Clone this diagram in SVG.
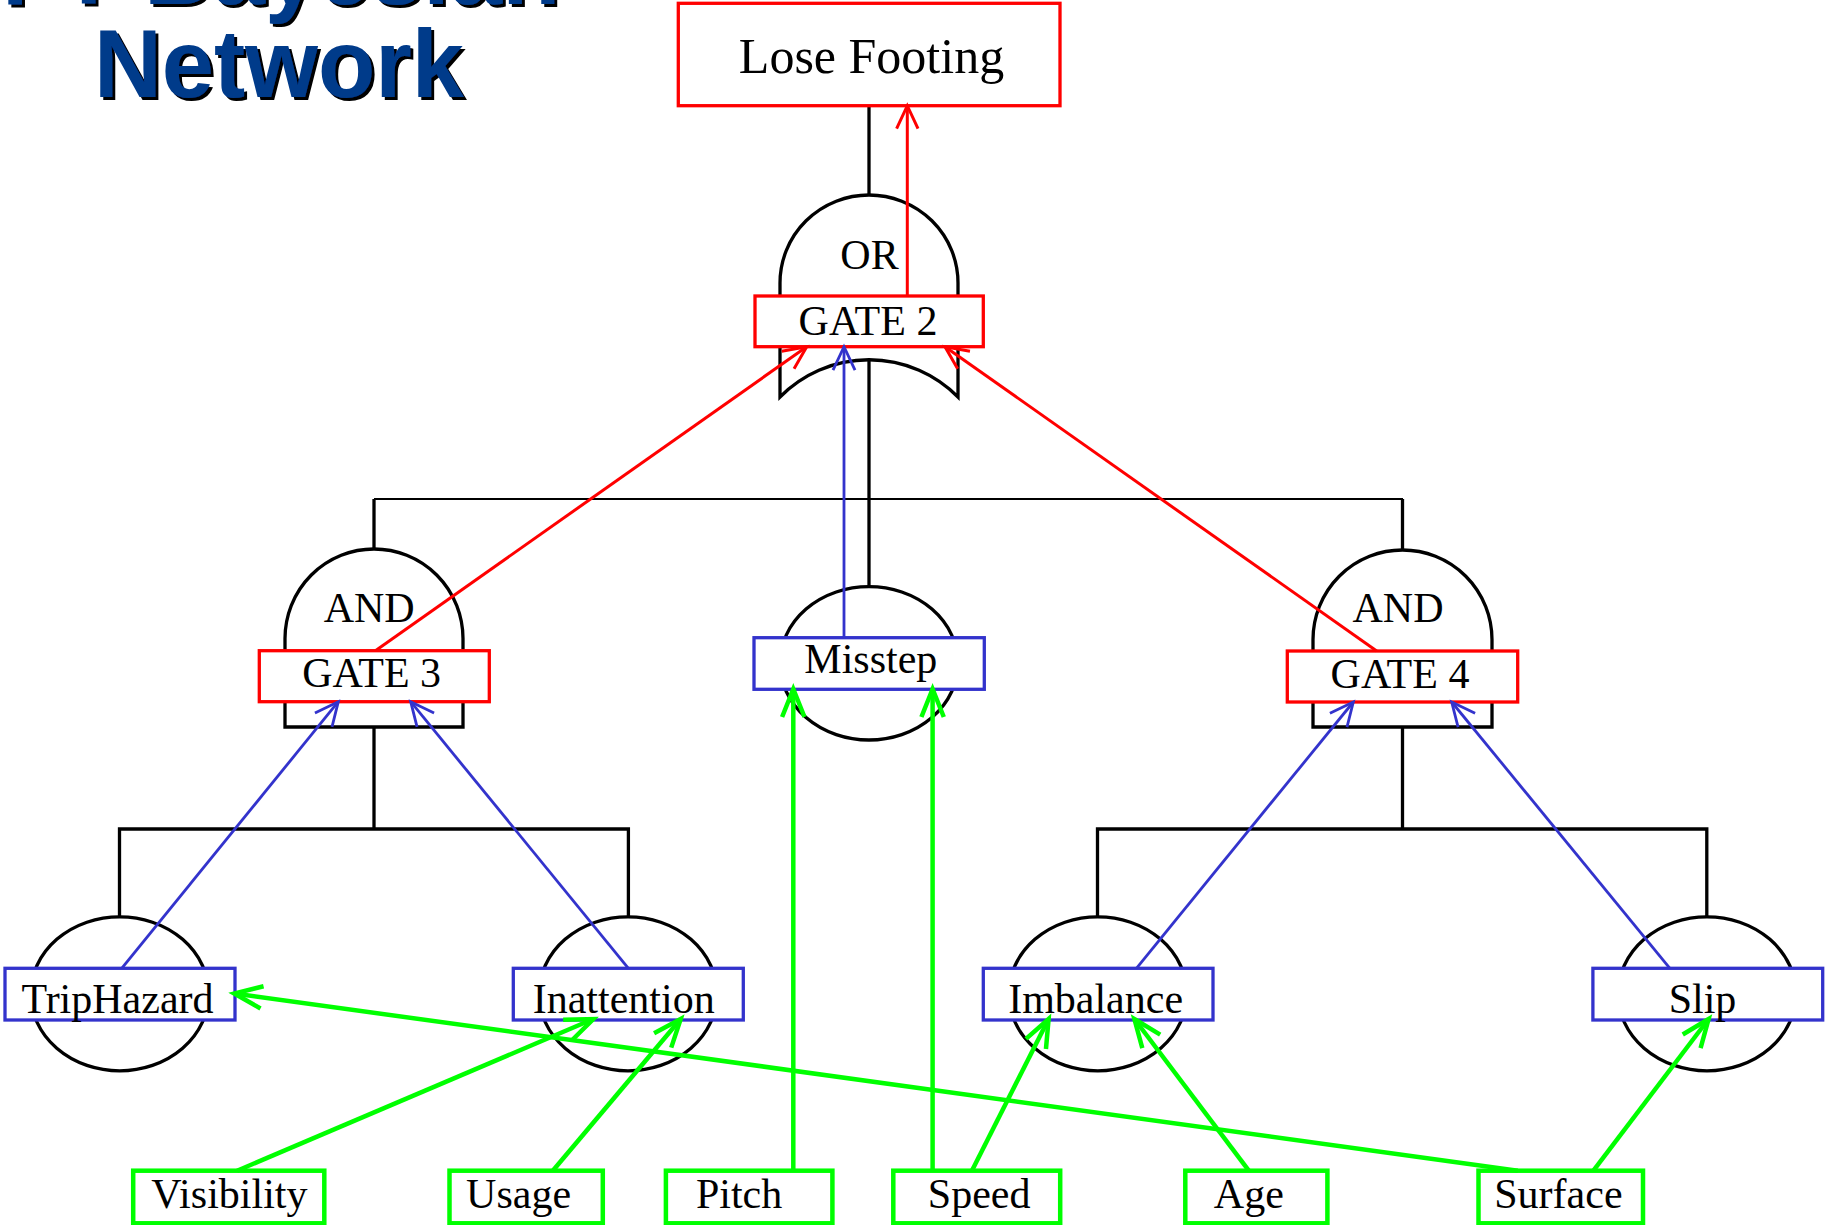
<svg xmlns="http://www.w3.org/2000/svg" width="1828" height="1225" viewBox="0 0 1828 1225">
  <style>
    .lbl { font-family: "Liberation Serif", "Times New Roman", serif; font-size: 42px; fill: #000; text-anchor: middle; }
    .big { font-size: 50px; }
    .title { font-family: "Liberation Sans", Arial, sans-serif; font-weight: bold; font-size: 96px; fill: #003a8a; }
    .gate { fill: #fff; stroke: #000; stroke-width: 3.3; stroke-linejoin: miter; }
    .event { fill: #fff; stroke: #000; stroke-width: 3.3; }
    .box-red { fill: #fff; stroke: #ff0000; stroke-width: 3.3; }
    .box-blue { fill: #fff; stroke: #3333cc; stroke-width: 3.3; }
    .box-green { fill: #fff; stroke: #00ff00; stroke-width: 4.5; }
    .tree { fill: none; stroke: #000; stroke-width: 3.3; }
    .tree-thin { fill: none; stroke: #000; stroke-width: 2.2; }
    .e-red { fill: none; stroke: #ff0000; stroke-width: 3; }
    .e-blue { fill: none; stroke: #3333cc; stroke-width: 2.8; }
    .e-green { fill: none; stroke: #00ff00; stroke-width: 4.5; }
  </style>
  <defs>
    <!-- hard black drop shadow for the heading -->
    <filter id="drop" x="-5%" y="-20%" width="110%" height="140%">
      <feOffset in="SourceAlpha" dx="3" dy="3" result="off"/>
      <feMerge>
        <feMergeNode in="off"/>
        <feMergeNode in="SourceGraphic"/>
      </feMerge>
    </filter>
    <marker id="ah-red" markerUnits="userSpaceOnUse" orient="auto" refX="0" refY="0" markerWidth="30" markerHeight="30" overflow="visible">
      <path d="M-23,-10.7 L0,0 L-23,10.7" fill="none" stroke="#ff0000" stroke-width="3"/>
    </marker>
    <marker id="ah-blue" markerUnits="userSpaceOnUse" orient="auto" refX="0" refY="0" markerWidth="30" markerHeight="30" overflow="visible">
      <path d="M-23.5,-11 L0,0 L-23.5,11" fill="none" stroke="#3333cc" stroke-width="2.8"/>
    </marker>
    <marker id="ah-green" markerUnits="userSpaceOnUse" orient="auto" refX="0" refY="0" markerWidth="34" markerHeight="34" overflow="visible">
      <path d="M-28,-11.2 L0,0 L-28,11.2" fill="none" stroke="#00ff00" stroke-width="4.5"/>
    </marker>
  </defs>

  <rect width="1828" height="1225" fill="#fff"/>

  <!-- heading -->
  <g id="heading" class="title" filter="url(#drop)">
    <text x="2" y="4" textLength="558" lengthAdjust="spacingAndGlyphs">FT-Bayesian</text>
    <text x="94" y="97" textLength="370" lengthAdjust="spacingAndGlyphs">Network</text>
  </g>

  <!-- fault tree structure lines -->
  <g id="tree-lines">
    <line class="tree" x1="869" y1="105.7" x2="869" y2="195"/>
    <line class="tree" x1="869" y1="359" x2="869" y2="586.7"/>
    <line class="tree-thin" x1="374" y1="499" x2="1403" y2="499"/>
    <line class="tree" x1="374" y1="499" x2="374" y2="549"/>
    <line class="tree" x1="1402.5" y1="499" x2="1402.5" y2="550"/>
    <line class="tree" x1="374" y1="727" x2="374" y2="829"/>
    <line class="tree" x1="1402.5" y1="727" x2="1402.5" y2="829"/>
    <path class="tree" d="M119.5,917 L119.5,829 L628.4,829 L628.4,917"/>
    <path class="tree" d="M1097.5,917 L1097.5,829 L1706.8,829 L1706.8,917"/>
  </g>

  <!-- top event -->
  <g id="lose-footing">
    <rect class="box-red" x="678.3" y="3.3" width="381.7" height="102.4"/>
    <text class="lbl big" x="871.5" y="72.7">Lose Footing</text>
  </g>

  <!-- OR gate -->
  <g id="gate2">
    <path class="gate" d="M780,397 L780,283 A89,88 0 0 1 958,283 L958,397 A125,125 0 0 0 780,397 Z"/>
    <text class="lbl" x="869.5" y="269.3">OR</text>
    <rect class="box-red" x="755" y="296" width="228.3" height="50.7"/>
    <text class="lbl" x="868" y="335">GATE 2</text>
  </g>

  <!-- AND gate left -->
  <g id="gate3">
    <path class="gate" d="M285,727 L285,638.5 A89,89.5 0 0 1 463,638.5 L463,727 Z"/>
    <text class="lbl" x="369.2" y="621.7">AND</text>
    <rect class="box-red" x="259.3" y="650.7" width="230" height="51"/>
    <text class="lbl" x="371.7" y="687.3">GATE 3</text>
  </g>

  <!-- AND gate right -->
  <g id="gate4">
    <path class="gate" d="M1313,727 L1313,639.5 A89.5,89.5 0 0 1 1492,639.5 L1492,727 Z"/>
    <text class="lbl" x="1398" y="621.7">AND</text>
    <rect class="box-red" x="1287.3" y="651" width="230.4" height="51"/>
    <text class="lbl" x="1400" y="687.7">GATE 4</text>
  </g>

  <!-- basic event: Misstep -->
  <g id="misstep">
    <ellipse class="event" cx="869" cy="663.3" rx="89" ry="76.7"/>
    <rect class="box-blue" x="754" y="637.7" width="230.3" height="51.6"/>
    <text class="lbl" x="870.8" y="673.3">Misstep</text>
  </g>

  <!-- basic events -->
  <g id="triphazard">
    <ellipse class="event" cx="119.7" cy="993.8" rx="89" ry="77"/>
    <rect class="box-blue" x="5" y="968.3" width="230" height="51.7"/>
    <text class="lbl" x="117.5" y="1012.7">TripHazard</text>
  </g>
  <g id="inattention">
    <ellipse class="event" cx="628" cy="993.8" rx="89" ry="77"/>
    <rect class="box-blue" x="513.3" y="968.3" width="230" height="51.7"/>
    <text class="lbl" x="623.7" y="1012.7">Inattention</text>
  </g>
  <g id="imbalance">
    <ellipse class="event" cx="1097.8" cy="993.8" rx="89" ry="77"/>
    <rect class="box-blue" x="983.3" y="968.3" width="229.7" height="51.7"/>
    <text class="lbl" x="1095.6" y="1012.7">Imbalance</text>
  </g>
  <g id="slip">
    <ellipse class="event" cx="1707" cy="993.8" rx="89" ry="77"/>
    <rect class="box-blue" x="1592.9" y="968.3" width="229.8" height="51.7"/>
    <text class="lbl" x="1702.5" y="1012.7">Slip</text>
  </g>

  <!-- root causes -->
  <g id="visibility">
    <rect class="box-green" x="133.2" y="1170.7" width="191.1" height="52.6"/>
    <text class="lbl" x="229.4" y="1208.3">Visibility</text>
  </g>
  <g id="usage">
    <rect class="box-green" x="449.5" y="1170.7" width="153.3" height="52.6"/>
    <text class="lbl" x="518.6" y="1208.3">Usage</text>
  </g>
  <g id="pitch">
    <rect class="box-green" x="665.9" y="1170.7" width="166.5" height="52.6"/>
    <text class="lbl" x="739.1" y="1208.3">Pitch</text>
  </g>
  <g id="speed">
    <rect class="box-green" x="893.3" y="1170.7" width="166.9" height="52.6"/>
    <text class="lbl" x="979.2" y="1208.3">Speed</text>
  </g>
  <g id="age">
    <rect class="box-green" x="1185.3" y="1170.7" width="142.1" height="52.6"/>
    <text class="lbl" x="1248.8" y="1208.3">Age</text>
  </g>
  <g id="surface">
    <rect class="box-green" x="1478.5" y="1170.7" width="164.5" height="52.6"/>
    <text class="lbl" x="1558.4" y="1208.3">Surface</text>
  </g>

  <!-- network arcs -->
  <g id="connectors">
    <line class="e-red" x1="907.3" y1="296" x2="907.3" y2="105.7" marker-end="url(#ah-red)"/>
    <line class="e-red" x1="375.4" y1="650.7" x2="806.7" y2="346.7" marker-end="url(#ah-red)"/>
    <line class="e-red" x1="1376.7" y1="651" x2="945" y2="346.7" marker-end="url(#ah-red)"/>

    <line class="e-blue" x1="844" y1="637.7" x2="844" y2="346.7" marker-end="url(#ah-blue)"/>
    <line class="e-blue" x1="121.7" y1="968.3" x2="338.3" y2="701.7" marker-end="url(#ah-blue)"/>
    <line class="e-blue" x1="628.4" y1="968.3" x2="410.7" y2="701.7" marker-end="url(#ah-blue)"/>
    <line class="e-blue" x1="1136.4" y1="968.3" x2="1353.3" y2="702" marker-end="url(#ah-blue)"/>
    <line class="e-blue" x1="1669.9" y1="968.3" x2="1451.7" y2="702" marker-end="url(#ah-blue)"/>

    <line class="e-green" x1="237.1" y1="1170.7" x2="593.3" y2="1019" marker-end="url(#ah-green)"/>
    <line class="e-green" x1="552.8" y1="1170.7" x2="680.7" y2="1019" marker-end="url(#ah-green)"/>
    <line class="e-green" x1="793.3" y1="1170.7" x2="793.3" y2="689" marker-end="url(#ah-green)"/>
    <line class="e-green" x1="932.6" y1="1170.7" x2="932.6" y2="689" marker-end="url(#ah-green)"/>
    <line class="e-green" x1="971.9" y1="1170.7" x2="1048.6" y2="1019" marker-end="url(#ah-green)"/>
    <line class="e-green" x1="1248.8" y1="1170.7" x2="1134.4" y2="1019" marker-end="url(#ah-green)"/>
    <line class="e-green" x1="1517.8" y1="1170.7" x2="234.3" y2="993.5" marker-end="url(#ah-green)"/>
    <line class="e-green" x1="1593.4" y1="1170.7" x2="1708.6" y2="1019" marker-end="url(#ah-green)"/>
  </g>
</svg>
